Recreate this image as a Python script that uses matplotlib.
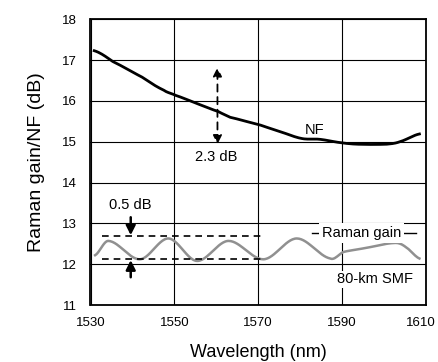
import matplotlib
matplotlib.use("Agg")
import matplotlib.pyplot as plt
import matplotlib.transforms as mtransforms
import numpy as np

plt.rcParams["font.family"] = ["Liberation Sans", "DejaVu Sans"]

# NF curve (dB) vs wavelength (nm)
nf_wl = [1530.9, 1535.4, 1542.2, 1547.4, 1550.2, 1555.3, 1560.5, 1563.3,
         1570.5, 1575.2, 1580.4, 1584.7, 1589.5, 1593.5, 1600.7, 1603.8, 1608.5]
nf_db = [17.23, 16.96, 16.59, 16.27, 16.14, 15.94, 15.74, 15.60,
         15.41, 15.25, 15.08, 15.06, 14.98, 14.94, 14.94, 15.00, 15.19]

# Raman gain ripple (dB)
gain_wl = [1531.1, 1534.3, 1541.8, 1548.6, 1555.4, 1562.9, 1571.3, 1579.2,
           1587.2, 1590.4, 1595.2, 1602.7, 1605.1, 1608.5]
gain_db = [12.22, 12.57, 12.12, 12.63, 12.08, 12.57, 12.12, 12.63,
           12.14, 12.30, 12.39, 12.52, 12.43, 12.14]

ripple_hi = 12.69
ripple_lo = 12.12
ripple_span = (1532.7, 1571.7)

x_ticks = [1530, 1550, 1570, 1590, 1610]
y_ticks = list(range(11, 19))


def smooth(x, y, n=300):
    # Catmull-Rom through the read points
    x = np.asarray(x)
    y = np.asarray(y)
    t = np.linspace(x[0], x[-1], n)
    out = []
    for xi in t:
        k = np.searchsorted(x, xi) - 1
        k = min(max(k, 0), len(x) - 2)
        p0 = y[max(k - 1, 0)]
        p1 = y[k]
        p2 = y[k + 1]
        p3 = y[min(k + 2, len(x) - 1)]
        u = (xi - x[k]) / (x[k + 1] - x[k])
        v = 0.5 * ((2 * p1) + (-p0 + p2) * u + (2 * p0 - 5 * p1 + 4 * p2 - p3) * u ** 2
                   + (-p0 + 3 * p1 - 3 * p2 + p3) * u ** 3)
        out.append(v)
    return t, np.array(out)


fig = plt.figure(figsize=(4.39, 3.62), dpi=100)
ax = fig.add_axes([90.5 / 439, 1 - 305 / 362, (425.7 - 90.5) / 439, (305 - 19.3) / 362])

ax.plot(*smooth(nf_wl, nf_db), color="black", linewidth=2.0)
ax.plot(*smooth(gain_wl, gain_db), color="#909090", linewidth=1.8)

# ripple dashed lines and arrows
ax.plot(ripple_span, [ripple_hi, ripple_hi], color="black", linewidth=1.2, dashes=(4, 3))
ax.plot(ripple_span, [ripple_lo, ripple_lo], color="black", linewidth=1.2, dashes=(4, 3))
ax.annotate("", xy=(1539.6, ripple_hi + 0.02), xytext=(1539.6, 13.15),
            arrowprops=dict(arrowstyle="-|>", color="black", lw=1.8, mutation_scale=14,
                            shrinkA=0, shrinkB=0))
ax.annotate("", xy=(1539.6, ripple_lo - 0.02), xytext=(1539.6, 11.68),
            arrowprops=dict(arrowstyle="-|>", color="black", lw=1.8, mutation_scale=14,
                            shrinkA=0, shrinkB=0))
ax.text(1539.5, 13.45, "0.5 dB", ha="center", va="center", fontsize=10.5)

# NF span arrow
ax.annotate("", xy=(1560.3, 16.82), xytext=(1560.3, 14.94),
            arrowprops=dict(arrowstyle="<|-|>", color="black", lw=1.3, linestyle=(0, (4, 3)),
                            mutation_scale=13, shrinkA=0, shrinkB=0))
ax.text(1560.1, 14.62, "2.3 dB", ha="center", va="center", fontsize=10.5)
ax.text(1583.4, 15.29, "NF", ha="center", va="center", fontsize=10.5)

# Raman gain label over a short line, SMF label
ax.plot([1582.9, 1607.6], [12.76, 12.76], color="black", linewidth=1.0)
ax.text(1594.6, 12.76, "Raman gain", ha="center", va="center", fontsize=10.5,
        bbox=dict(facecolor="white", edgecolor="none", pad=2.0))
ax.text(1598.0, 11.63, "80-km SMF", ha="center", va="center", fontsize=10.5,
        bbox=dict(facecolor="white", edgecolor="none", pad=1.0))

ax.set_xlim(1530, 1610)
ax.set_ylim(11, 18)
ax.set_xticks(x_ticks)
ax.set_yticks(y_ticks)
ax.grid(True, color="black", linewidth=0.8)
ax.set_axisbelow(True)
ax.tick_params(length=0, labelsize=9.5)
ax.tick_params(axis="y", pad=10)
ax.tick_params(axis="x", pad=9)
for s in ax.spines.values():
    s.set_linewidth(1.3)

# last x tick label sits a little inside, as in the original
last = ax.get_xticklabels()[-1]
last.set_transform(last.get_transform() + mtransforms.ScaledTranslation(-5 / 100, 0, fig.dpi_scale_trans))

ax.set_xlabel("Wavelength (nm)", fontsize=13)
ax.set_ylabel("Raman gain/NF (dB)", fontsize=14)
ax.xaxis.set_label_coords(0.5, -0.135)
ax.yaxis.set_label_coords(-0.135, 0.5)

fig.savefig("out.png", dpi=100)
